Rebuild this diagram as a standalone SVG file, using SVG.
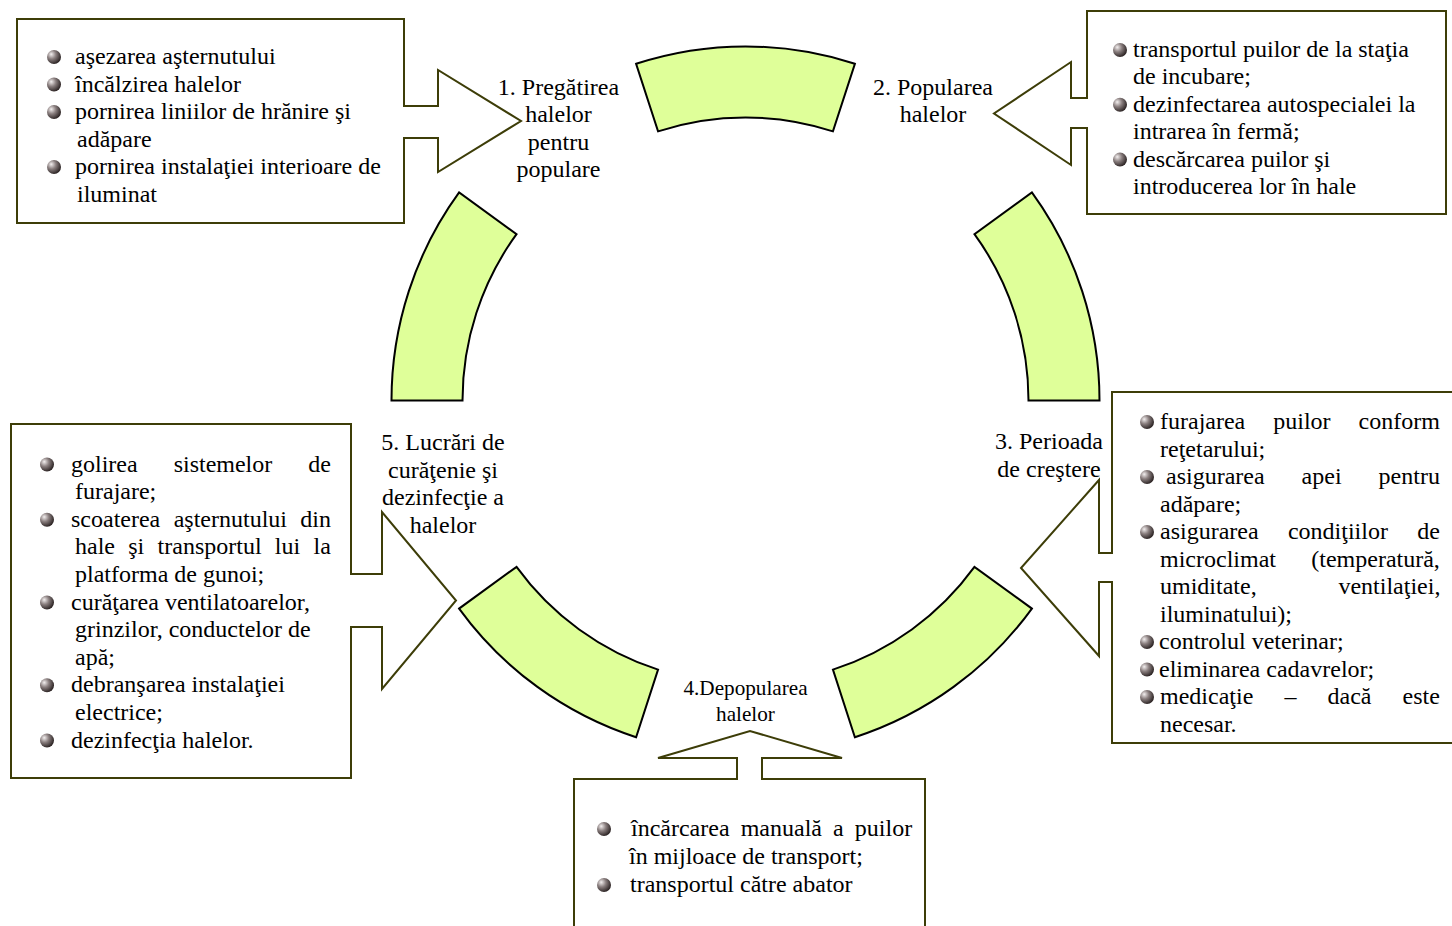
<svg xmlns="http://www.w3.org/2000/svg" width="1452" height="926" viewBox="0 0 1452 926">
<defs>
<radialGradient id="ball" cx="0.35" cy="0.35" r="0.7" fx="0.3" fy="0.3">
<stop offset="0" stop-color="#f4f0f0"/>
<stop offset="0.45" stop-color="#8a7f7f"/>
<stop offset="1" stop-color="#261e1e"/>
</radialGradient>
</defs>
<style>
.wedge{fill:#dfff99;stroke:#000;stroke-width:2;stroke-linejoin:miter}
.call{fill:#fff;stroke:#3d3d08;stroke-width:2;stroke-linejoin:miter}
text{font-family:"Liberation Serif","Times New Roman",serif;font-size:24px;fill:#000}
.c{text-anchor:middle}
.small{font-size:21.2px}
.b{fill:url(#ball)}
</style>
<rect width="1452" height="926" fill="#fff"/>

<g id="cycle">
<g id="seg-top"><path class="wedge" d="M636.11,63.81 A354,354 0 0 1 854.89,63.81 L832.95,131.34 A283,283 0 0 0 658.05,131.34 Z"/></g>
<g id="seg-right"><path class="wedge" d="M1031.89,192.42 A354,354 0 0 1 1099.5,400.5 L1028.5,400.5 A283,283 0 0 0 974.45,234.15 Z"/></g>
<g id="seg-bottom-right"><path class="wedge" d="M1031.89,608.58 A354,354 0 0 1 854.89,737.19 L832.95,669.66 A283,283 0 0 0 974.45,566.85 Z"/></g>
<g id="seg-bottom-left"><path class="wedge" d="M636.11,737.19 A354,354 0 0 1 459.11,608.58 L516.55,566.85 A283,283 0 0 0 658.05,669.66 Z"/></g>
<g id="seg-left"><path class="wedge" d="M391.5,400.5 A354,354 0 0 1 459.11,192.42 L516.55,234.15 A283,283 0 0 0 462.5,400.5 Z"/></g>
</g>

<g id="connectors"></g>

<g id="step1">
<path class="call" d="M17,19 H404 V106 H438 V70 L521,121 L438,172 V138 H404 V223 H17 Z"/>
<circle class="b" cx="54" cy="57" r="7"/>
<circle class="b" cx="54" cy="84.5" r="7"/>
<circle class="b" cx="54" cy="112" r="7"/>
<circle class="b" cx="54" cy="167" r="7"/>
<text x="75" y="64">aşezarea aşternutului</text>
<text x="75" y="91.5">încălzirea halelor</text>
<text x="75" y="119">pornirea liniilor de hrănire şi</text>
<text x="77" y="146.5">adăpare</text>
<text x="75" y="174">pornirea instalaţiei interioare de</text>
<text x="77" y="201.5">iluminat</text>
<text class="c" x="558.5" y="95">1. Pregătirea</text>
<text class="c" x="558.5" y="122.4">halelor</text>
<text class="c" x="558.5" y="149.8">pentru</text>
<text class="c" x="558.5" y="177.2">populare</text>
</g>

<g id="step2">
<path class="call" d="M1087,11 H1446 V214 H1087 V128 H1071 V165 L994,113.5 L1071,62 V98 H1087 Z"/>
<circle class="b" cx="1120" cy="50" r="7"/>
<circle class="b" cx="1120" cy="104.8" r="7"/>
<circle class="b" cx="1120" cy="159.6" r="7"/>
<text x="1133" y="57">transportul puilor de la staţia</text>
<text x="1133" y="84.4">de incubare;</text>
<text x="1133" y="111.8">dezinfectarea autospecialei la</text>
<text x="1133" y="139.2">intrarea în fermă;</text>
<text x="1133" y="166.6">descărcarea puilor şi</text>
<text x="1133" y="194">introducerea lor în hale</text>
<text class="c" x="933" y="95">2. Popularea</text>
<text class="c" x="933" y="122.4">halelor</text>
</g>

<g id="step3">
<path class="call" d="M1112,392 H1462 V743 H1112 V582 H1099 V656 L1021,568 L1099,480 V553 H1112 Z"/>
<circle class="b" cx="1147" cy="422" r="7"/>
<circle class="b" cx="1147" cy="477" r="7"/>
<circle class="b" cx="1147" cy="532" r="7"/>
<circle class="b" cx="1147" cy="642" r="7"/>
<circle class="b" cx="1147" cy="669.5" r="7"/>
<circle class="b" cx="1147" cy="697" r="7"/>
<text x="1160" y="429" word-spacing="22">furajarea puilor conform</text>
<text x="1160" y="456.5">reţetarului;</text>
<text x="1166" y="484" word-spacing="31">asigurarea apei pentru</text>
<text x="1160" y="511.5">adăpare;</text>
<text x="1160" y="539" word-spacing="23.3">asigurarea condiţiilor de</text>
<text x="1160" y="566.5" word-spacing="29.3">microclimat (temperatură,</text>
<text x="1160" y="594" word-spacing="75.8">umiditate, ventilaţiei,</text>
<text x="1160" y="621.5">iluminatului);</text>
<text x="1159" y="649">controlul veterinar;</text>
<text x="1159" y="676.5">eliminarea cadavrelor;</text>
<text x="1160" y="704" word-spacing="25.1">medicaţie – dacă este</text>
<text x="1160" y="731.5">necesar.</text>
<text class="c" x="1049" y="449">3. Perioada</text>
<text class="c" x="1049" y="476.5">de creştere</text>
</g>

<g id="step4">
<path class="call" d="M574,779 H737 V758 H658 L750,731 L842,758 H762 V779 H925 V940 H574 Z"/>
<circle class="b" cx="604" cy="829" r="7"/>
<circle class="b" cx="604" cy="885" r="7"/>
<text x="631" y="836" word-spacing="5.1">încărcarea manuală a puilor</text>
<text x="629" y="864">în mijloace de transport;</text>
<text x="630" y="892">transportul către abator</text>
<text class="c small" x="745.5" y="695">4.Depopularea</text>
<text class="c small" x="745.5" y="720.5">halelor</text>
</g>

<g id="step5">
<path class="call" d="M11,424 H351 V574 H382 V512 L456,600.5 L382,689 V627 H351 V778 H11 Z"/>
<circle class="b" cx="47" cy="464.5" r="7"/>
<circle class="b" cx="47" cy="519.7" r="7"/>
<circle class="b" cx="47" cy="602.5" r="7"/>
<circle class="b" cx="47" cy="685.3" r="7"/>
<circle class="b" cx="47" cy="740.5" r="7"/>
<text x="71" y="471.5" word-spacing="30">golirea sistemelor de</text>
<text x="75" y="499.1">furajare;</text>
<text x="71" y="526.7" word-spacing="7.4">scoaterea aşternutului din</text>
<text x="75" y="554.3" word-spacing="7.3">hale şi transportul lui la</text>
<text x="75" y="581.9">platforma de gunoi;</text>
<text x="71" y="609.5">curăţarea ventilatoarelor,</text>
<text x="75" y="637.1">grinzilor, conductelor de</text>
<text x="75" y="664.7">apă;</text>
<text x="71" y="692.3">debranşarea instalaţiei</text>
<text x="75" y="719.9">electrice;</text>
<text x="71" y="747.5">dezinfecţia halelor.</text>
<text class="c" x="443" y="450">5. Lucrări de</text>
<text class="c" x="443" y="477.5">curăţenie şi</text>
<text class="c" x="443" y="505">dezinfecţie a</text>
<text class="c" x="443" y="532.5">halelor</text>
</g>
</svg>
